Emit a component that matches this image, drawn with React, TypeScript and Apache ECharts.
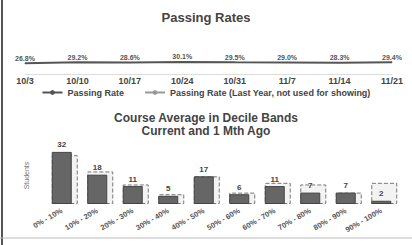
import React, { useEffect, useRef } from "react";
import * as echarts from "echarts";

const weekLabels = ["10/3", "10/10", "10/17", "10/24", "10/31", "11/7", "11/14", "11/21"];
const passingRate = [26.8, 29.2, 28.6, 30.1, 29.5, 29.0, 28.3, 29.4];
const passingRateLastYear: (number | null)[] = [null, null, null, null, null, null, null, null];

const bands = ["0% - 10%", "10% - 20%", "20% - 30%", "30% - 40%", "40% - 50%", "50% - 60%", "60% - 70%", "70% - 80%", "80% - 90%", "90% - 100%"];
const current = [32, 18, 11, 5, 17, 6, 11, 7, 7, 2];
const monthAgo = [30, 20, 12, 6, 17, 7, 13, 12, 7, 13];

export default function App() {
  const ref = useRef<HTMLDivElement>(null);
  useEffect(() => {
    document.body.style.margin = "0";
    const chart = echarts.init(ref.current!, null, { renderer: "svg" });
    const font = "Liberation Sans";
    chart.setOption({
      animation: false,
      textStyle: { fontFamily: font },
      title: [
        { text: "Passing Rates", left: "center", top: 6, textStyle: { fontSize: 13, fontWeight: "bold", color: "#444", fontFamily: font } },
        { text: "Course Average in Decile Bands", left: "center", top: 107, textStyle: { fontSize: 12, fontWeight: "bold", color: "#444", fontFamily: font } },
        { text: "Current and 1 Mth Ago", left: "center", top: 120, textStyle: { fontSize: 12, fontWeight: "bold", color: "#444", fontFamily: font } },
      ],
      legend: {
        top: 83, left: "center", itemWidth: 20, itemHeight: 6, itemGap: 20,
        textStyle: { fontSize: 9, color: "#444", fontWeight: "bold" },
        data: [
          { name: "Passing Rate" },
          { name: "Passing Rate (Last Year, not used for showing)" },
        ],
      },
      grid: [
        { left: 25, right: 20, top: 34, height: 40 },
        { left: 44, right: 13, top: 147, bottom: 41 },
      ],
      xAxis: [
        {
          gridIndex: 0, type: "category", data: weekLabels, boundaryGap: false,
          axisLine: { lineStyle: { color: "#ddd" } }, axisTick: { show: false },
          axisLabel: { fontSize: 9, color: "#444", fontWeight: "bold", margin: 2 },
        },
        {
          gridIndex: 1, type: "category", data: bands,
          axisLine: { show: false }, axisTick: { show: false },
          axisLabel: { fontSize: 7.5, color: "#555", rotate: 30, margin: 6, interval: 0, fontWeight: "bold" },
        },
      ],
      yAxis: [
        { gridIndex: 0, type: "value", min: 0, max: 100, show: false },
        {
          gridIndex: 1, type: "value", min: 0, max: 35, show: true,
          axisLine: { show: false }, axisTick: { show: false }, axisLabel: { show: false }, splitLine: { show: false },
          name: "Students", nameLocation: "middle", nameGap: 14, nameTextStyle: { fontSize: 7, color: "#777" },
        },
      ],
      series: [
        {
          name: "Passing Rate", type: "line", xAxisIndex: 0, yAxisIndex: 0, data: passingRate,
          symbol: "circle", symbolSize: 1, showSymbol: true, lineStyle: { color: "#555", width: 2 }, itemStyle: { color: "#555" },
          label: { show: true, position: "top", distance: 1, fontSize: 7, color: "#555", fontWeight: "bold", formatter: (p: any) => p.value.toFixed(1) + "%" },
        },
        {
          name: "Passing Rate (Last Year, not used for showing)", type: "line", xAxisIndex: 0, yAxisIndex: 0, data: passingRateLastYear,
          symbol: "none", lineStyle: { color: "#999", width: 1.5, type: "dashed" }, itemStyle: { color: "#999" },
        },
        {
          name: "1 Mth Ago", type: "bar", xAxisIndex: 1, yAxisIndex: 1, data: monthAgo, barWidth: 26, barGap: "-100%",
          itemStyle: { color: "#f3f3f3", borderColor: "#777", borderWidth: 1, borderType: "dashed" },
        },
        {
          name: "Current", type: "bar", xAxisIndex: 1, yAxisIndex: 1, data: current, barWidth: 20,
          itemStyle: { color: "#666", borderColor: "#444", borderWidth: 1 },
          label: { show: true, position: "top", distance: 3, fontSize: 8, fontWeight: "bold", color: "#444" },
        },
      ],
      graphic: [
        { type: "line", shape: { x1: 2, y1: 0, x2: 2, y2: 245 }, style: { stroke: "#555", lineWidth: 2 } },
        { type: "line", shape: { x1: 0, y1: 238, x2: 412, y2: 238 }, style: { stroke: "#bbb", lineWidth: 1 } },
      ],
    });
    return () => chart.dispose();
  }, []);
  return <div ref={ref} style={{ width: 412, height: 245 }} />;
}
